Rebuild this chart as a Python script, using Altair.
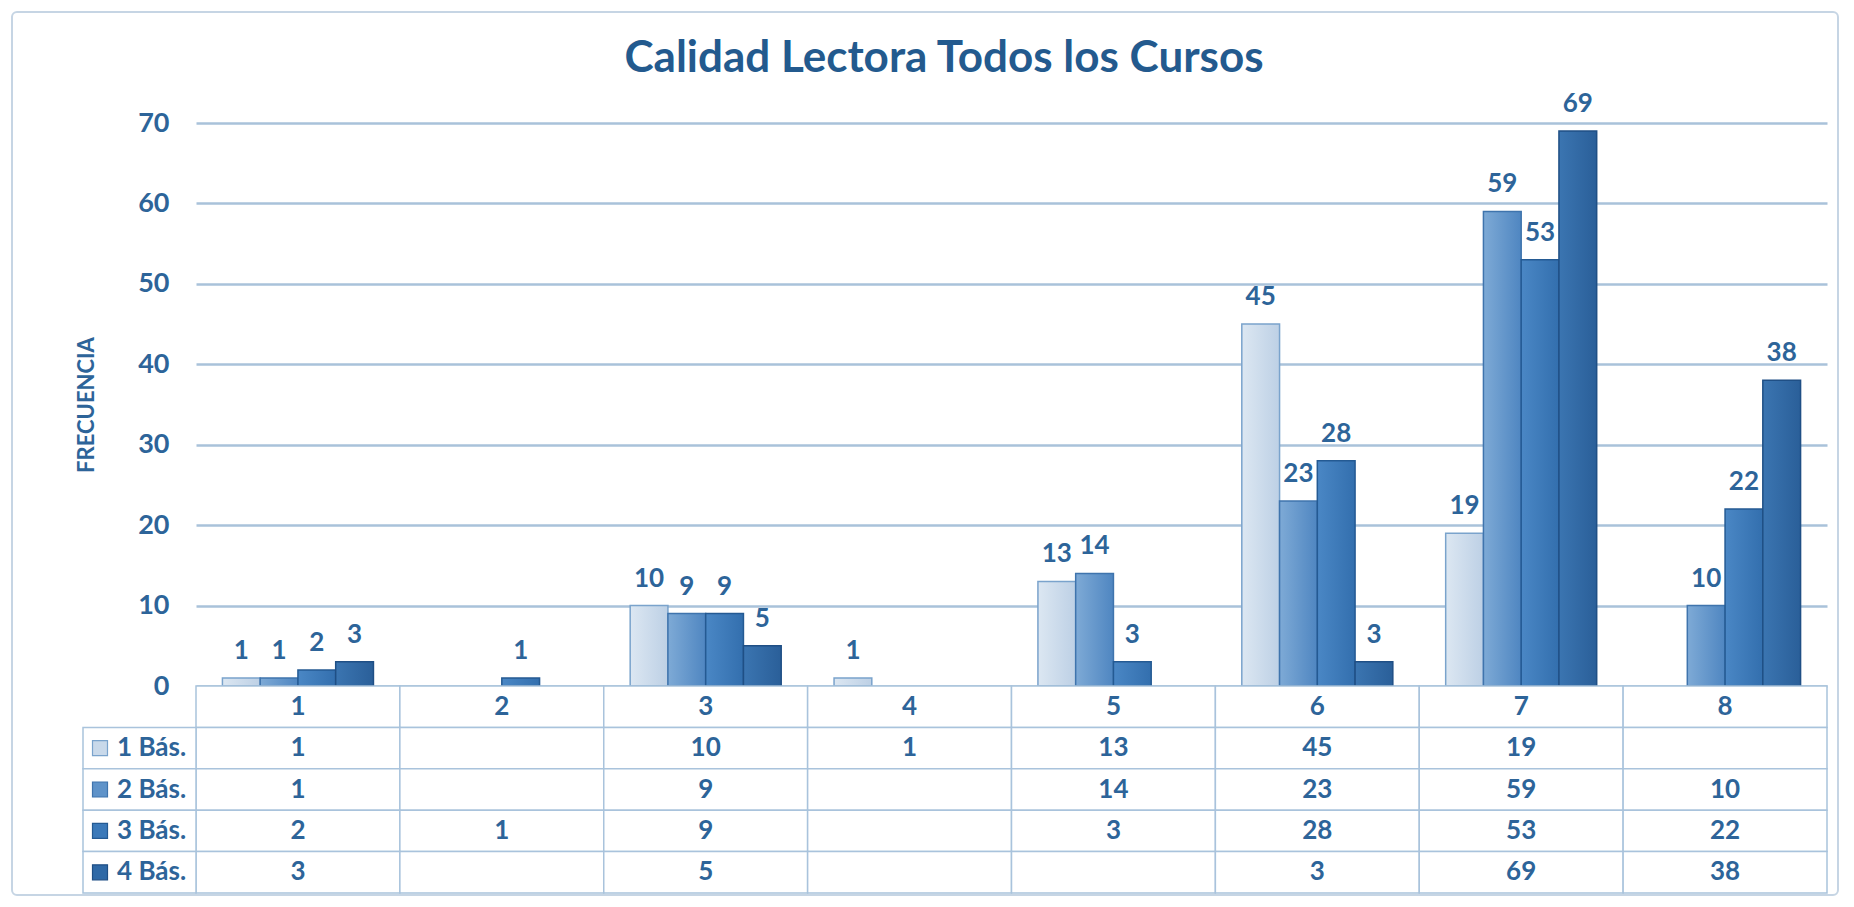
import altair as alt
import pandas as pd

# ---------------- data ----------------
categories = ["1", "2", "3", "4", "5", "6", "7", "8"]
series = ["1 Bás.", "2 Bás.", "3 Bás.", "4 Bás."]
bas1 = [1, None, 10, 1, 13, 45, 19, None]
bas2 = [1, None, 9, None, 14, 23, 59, 10]
bas3 = [2, 1, 9, None, 3, 28, 53, 22]
bas4 = [3, None, 5, None, None, 3, 69, 38]
y_ticks = [0, 10, 20, 30, 40, 50, 60, 70]
title_text = "Calidad Lectora Todos los Cursos"
y_title = "FRECUENCIA"

# ---------------- styles ----------------
FONT = "Lato"
TXT = "#2d6499"
TITLE_C = "#235a8e"
GRID_C = "#a9c2da"
TABLE_C = "#a9c3dc"
fills = ["#c9d9ea", "#5f93c9", "#3b79b9", "#2f69a6"]
grad_left = ["#dce7f2", "#7eaad6", "#4a87c5", "#3b75b1"]
grad_right = ["#bdd0e5", "#4f86c1", "#336fae", "#2a5f99"]
strokes = ["#7aa3cc", "#3f74ad", "#245a93", "#1f4f85"]

W = 1631
H_PLOT = 563
H_TABLE = 207

all_vals = [bas1, bas2, bas3, bas4]
bars = pd.DataFrame([
    {"cat": c, "series": s, "value": v}
    for s, vals in zip(series, all_vals)
    for c, v in zip(categories, vals) if v is not None
])

rows = ["hdr"] + series
cells = pd.DataFrame([{"cat": c, "row": r} for r in rows for c in categories])
cell_text = pd.DataFrame(
    [{"cat": c, "row": "hdr", "label": c} for c in categories]
    + [{"cat": c, "row": s, "label": str(v)}
       for s, vals in zip(series, all_vals)
       for c, v in zip(categories, vals) if v is not None]
)
row_labels = pd.DataFrame([{"row": s} for s in series])

x_enc = alt.X("cat:N", scale=alt.Scale(domain=categories, paddingInner=0, paddingOuter=0), axis=None)
xoff = alt.XOffset("series:N", scale=alt.Scale(domain=series, paddingInner=0, paddingOuter=0.7))
stroke = alt.Stroke("series:N", scale=alt.Scale(domain=series, range=strokes), legend=None)

one = pd.DataFrame([{"k": 0}])

border = alt.Chart(one).mark_rect(
    fill="#ffffff", fillOpacity=0, stroke="#c6d5e4", strokeWidth=2, cornerRadius=5
).encode(x=alt.value(-184), x2=alt.value(1642), y=alt.value(-111), y2=alt.value(772))

title = alt.Chart(one).mark_text(
    text=title_text, font=FONT, fontSize=44, fontWeight="bold", color=TITLE_C,
    align="center", baseline="middle"
).encode(x=alt.value(748), y=alt.value(-64))

y_enc = alt.Y(
    "value:Q",
    scale=alt.Scale(domain=[0, 70], range=[H_PLOT, 0], nice=False),
    axis=alt.Axis(
        values=y_ticks, grid=True, gridColor=GRID_C, gridWidth=2.5, domain=False, ticks=False,
        labelFont=FONT, labelFontSize=27, labelFontWeight="bold", labelColor=TXT, labelPadding=27,
        title=y_title, titleFont=FONT, titleFontSize=22, titleFontWeight="bold", titleColor=TXT,
        titleAngle=270, titleX=-110, titleY=H_PLOT / 2, titleAlign="center", titleBaseline="middle",
    ),
)

bar_layers = []
for i, s in enumerate(series):
    grad = alt.Gradient(
        gradient="linear", x1=0, x2=1, y1=0, y2=0,
        stops=[alt.GradientStop(color=grad_left[i], offset=0),
               alt.GradientStop(color=grad_right[i], offset=1)],
    )
    bar_layers.append(
        alt.Chart(bars).transform_filter(alt.datum.series == s)
        .mark_bar(strokeWidth=1.5, fill=grad)
        .encode(x=x_enc, xOffset=xoff, y=y_enc if i == 0 else alt.Y("value:Q"), stroke=stroke)
    )

bar_text = alt.Chart(bars).mark_text(
    font=FONT, fontSize=26, fontWeight="bold", color=TXT, baseline="middle", dy=-27
).encode(x=x_enc, xOffset=xoff, y=alt.Y("value:Q"), text=alt.Text("value:Q"))

top = alt.layer(border, title, *bar_layers, bar_text)

y_tab = alt.Y("row:N", scale=alt.Scale(domain=rows, range=[H_PLOT, H_PLOT + H_TABLE],
                                       paddingInner=0, paddingOuter=0), axis=None)

cell_rects = alt.Chart(cells).mark_rect(fill="#ffffff", stroke=TABLE_C, strokeWidth=1.5).encode(
    x=x_enc, y=y_tab
)
label_rects = alt.Chart(row_labels).mark_rect(fill="#ffffff", stroke=TABLE_C, strokeWidth=1.5).encode(
    x=alt.value(-113), x2=alt.value(0), y=y_tab
)
swatches = alt.Chart(row_labels).mark_square(size=225, strokeWidth=1.2, opacity=1).encode(
    x=alt.value(-96), y=y_tab,
    color=alt.Color("row:N", scale=alt.Scale(domain=series, range=fills), legend=None),
    stroke=alt.Stroke("row:N", scale=alt.Scale(domain=series, range=strokes), legend=None),
)
label_text = alt.Chart(row_labels).mark_text(
    font=FONT, fontSize=26, fontWeight="bold", color=TXT, align="left", baseline="middle"
).encode(x=alt.value(-79), y=y_tab, text="row:N")
cell_vals = alt.Chart(cell_text).mark_text(
    font=FONT, fontSize=26, fontWeight="bold", color=TXT, align="center", baseline="middle"
).encode(x=x_enc, y=y_tab, text="label:N")

table = alt.layer(cell_rects, label_rects, swatches, label_text, cell_vals)

chart = alt.layer(top, table).resolve_scale(
    y="independent", color="independent", stroke="independent"
).properties(
    width=W, height=H_PLOT + H_TABLE, padding=3, background="#ffffff"
).configure_view(stroke=None)

chart.save("out.html", embed_options={"renderer": "svg", "actions": False})
